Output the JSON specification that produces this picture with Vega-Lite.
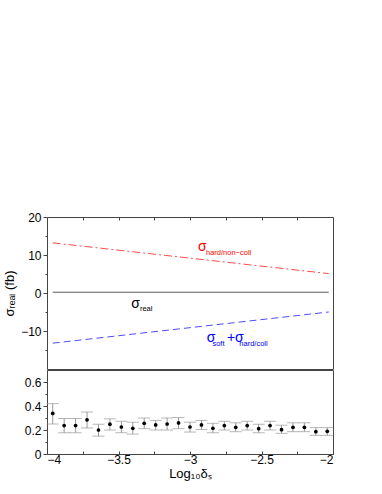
{
  "$schema": "https://vega.github.io/schema/vega-lite/v6.json",
  "padding": {"left": 3, "top": 210, "right": 5, "bottom": 5},
  "background": "white",
  "spacing": -1,
  "config": {
    "font": "Liberation Sans",
    "view": {"stroke": "#444", "strokeWidth": 1},
    "axis": {
      "domain": false, "grid": false, "labelOverlap": false,
      "labelFont": "Liberation Sans", "labelFontSize": 12, "labelColor": "#000", "labelPadding": 2,
      "tickColor": "#444", "tickWidth": 1,
      "titleFont": "Liberation Sans", "titleFontWeight": "normal", "titleFontSize": 13, "titleColor": "#000"
    }
  },
  "datasets": {
    "curves": [
      {"series": "hard", "x": -3.96, "y": 13.2},
      {"series": "hard", "x": -2.03, "y": 5.1},
      {"series": "real", "x": -3.96, "y": 0.2},
      {"series": "real", "x": -2.03, "y": 0.2},
      {"series": "soft", "x": -3.96, "y": -13.2},
      {"series": "soft", "x": -2.03, "y": -5.0}
    ],
    "labels_main": [
      {"series": "hard", "x": -2.944, "y": 11.0, "text": "σ"},
      {"series": "real", "x": -3.41, "y": -3.9, "text": "σ"},
      {"series": "soft", "x": -2.883, "y": -12.9, "text": "σ"},
      {"series": "soft", "x": -2.742, "y": -12.9, "text": "+σ"}
    ],
    "labels_sub": [
      {"series": "hard", "x": -2.888, "y": 9.9, "text": "hard/non−coll"},
      {"series": "real", "x": -3.35, "y": -4.7, "text": "real"},
      {"series": "soft", "x": -2.843, "y": -14.0, "text": "soft"},
      {"series": "soft", "x": -2.655, "y": -14.0, "text": "hard/coll"}
    ],
    "points": [
      {"x": -3.96, "y": 0.338, "lo": 0.25, "hi": 0.42},
      {"x": -3.88, "y": 0.237, "lo": 0.177, "hi": 0.296},
      {"x": -3.80, "y": 0.237, "lo": 0.177, "hi": 0.296},
      {"x": -3.72, "y": 0.285, "lo": 0.217, "hi": 0.35},
      {"x": -3.64, "y": 0.200, "lo": 0.149, "hi": 0.248},
      {"x": -3.56, "y": 0.248, "lo": 0.200, "hi": 0.293},
      {"x": -3.48, "y": 0.225, "lo": 0.177, "hi": 0.273},
      {"x": -3.40, "y": 0.214, "lo": 0.166, "hi": 0.265},
      {"x": -3.32, "y": 0.256, "lo": 0.211, "hi": 0.300},
      {"x": -3.24, "y": 0.242, "lo": 0.200, "hi": 0.280},
      {"x": -3.16, "y": 0.250, "lo": 0.200, "hi": 0.300},
      {"x": -3.08, "y": 0.259, "lo": 0.211, "hi": 0.304},
      {"x": -3.00, "y": 0.225, "lo": 0.183, "hi": 0.265},
      {"x": -2.92, "y": 0.242, "lo": 0.203, "hi": 0.280},
      {"x": -2.84, "y": 0.214, "lo": 0.177, "hi": 0.256},
      {"x": -2.76, "y": 0.237, "lo": 0.200, "hi": 0.273},
      {"x": -2.68, "y": 0.222, "lo": 0.186, "hi": 0.260},
      {"x": -2.60, "y": 0.237, "lo": 0.200, "hi": 0.273},
      {"x": -2.52, "y": 0.211, "lo": 0.177, "hi": 0.248},
      {"x": -2.44, "y": 0.237, "lo": 0.200, "hi": 0.273},
      {"x": -2.36, "y": 0.203, "lo": 0.172, "hi": 0.240},
      {"x": -2.28, "y": 0.222, "lo": 0.186, "hi": 0.260},
      {"x": -2.20, "y": 0.222, "lo": 0.186, "hi": 0.260},
      {"x": -2.12, "y": 0.186, "lo": 0.155, "hi": 0.220},
      {"x": -2.04, "y": 0.189, "lo": 0.155, "hi": 0.220}
    ]
  },
  "vconcat": [
    {
      "width": 286,
      "height": 152,
      "encoding": {
        "x": {
          "field": "x", "type": "quantitative",
          "scale": {"domain": [-4, -2], "nice": false, "zero": false},
          "axis": {"orient": "top", "values": [-3.75, -3.5, -3.25, -3, -2.75, -2.5, -2.25], "labels": false, "title": null, "tickSize": -3}
        },
        "y": {
          "field": "y", "type": "quantitative",
          "scale": {"domain": [-20, 20], "nice": false, "zero": false},
          "axis": {
            "values": [-15, -10, -5, 0, 5, 10, 15, 20],
            "labelOverlap": false,
            "labelExpr": "(datum.value % 10 === 0) ? datum.label : ''",
            "tickSize": {"condition": {"test": "datum.value % 10 === 0", "value": 4}, "value": 2},
            "title": "σᵣₑₐₗ (fb)", "titlePadding": 4
          }
        },
        "color": {
          "field": "series", "type": "nominal",
          "scale": {"domain": ["hard", "real", "soft"], "range": ["#ff0000", "#000000", "#0000ff"]},
          "legend": null
        }
      },
      "layer": [
        {
          "data": {"name": "curves"},
          "mark": {"type": "line", "strokeWidth": 1, "opacity": 0.7},
          "encoding": {
            "strokeDash": {
              "field": "series", "type": "nominal",
              "scale": {"domain": ["hard", "real", "soft"], "range": [[8, 3, 2, 3], [1, 0], [7, 4]]},
              "legend": null
            }
          }
        },
        {
          "data": {"name": "labels_main"},
          "mark": {"type": "text", "align": "left", "baseline": "alphabetic", "fontSize": 14},
          "encoding": {"text": {"field": "text"}}
        },
        {
          "data": {"name": "labels_sub"},
          "mark": {"type": "text", "align": "left", "baseline": "alphabetic", "fontSize": 7.5},
          "encoding": {"text": {"field": "text"}}
        }
      ]
    },
    {
      "width": 286,
      "height": 84,
      "data": {"name": "points"},
      "encoding": {
        "x": {
          "field": "x", "type": "quantitative",
          "scale": {"domain": [-4, -2], "nice": false, "zero": false},
          "axis": {
            "values": [-4, -3.75, -3.5, -3.25, -3, -2.75, -2.5, -2.25, -2],
            "format": "~g",
            "labelOverlap": false,
            "labelExpr": "(round(datum.value * 4) % 2 === 0) ? datum.label : ''",
            "tickSize": -3, "labelPadding": 3,
            "title": "Log₁₀δₛ", "titlePadding": 2
          }
        }
      },
      "layer": [
        {
          "mark": {"type": "rule", "color": "#999999", "strokeWidth": 1},
          "encoding": {
            "y": {
              "field": "lo", "type": "quantitative",
              "scale": {"domain": [0, 0.7], "nice": false},
              "axis": {
                "values": [0, 0.1, 0.2, 0.3, 0.4, 0.5, 0.6],
                "format": ".1~f",
                "labelOverlap": false,
                "labelExpr": "indexof(['0', '0.2', '0.4', '0.6'], datum.label) >= 0 ? datum.label : ''",
                "tickSize": {"condition": {"test": "indexof(['0', '0.2', '0.4', '0.6'], datum.label) >= 0", "value": 4}, "value": 2},
                "title": null
              }
            },
            "y2": {"field": "hi"}
          }
        },
        {
          "mark": {"type": "tick", "orient": "horizontal", "color": "#999999", "size": 12, "thickness": 1},
          "encoding": {
            "y": {
              "field": "lo", "type": "quantitative",
              "axis": {
                "values": [0, 0.1, 0.2, 0.3, 0.4, 0.5, 0.6],
                "format": ".1~f",
                "labelOverlap": false,
                "labelExpr": "indexof(['0', '0.2', '0.4', '0.6'], datum.label) >= 0 ? datum.label : ''",
                "tickSize": {"condition": {"test": "indexof(['0', '0.2', '0.4', '0.6'], datum.label) >= 0", "value": 4}, "value": 2},
                "title": null
              }
            }
          }
        },
        {
          "mark": {"type": "tick", "orient": "horizontal", "color": "#999999", "size": 12, "thickness": 1},
          "encoding": {
            "y": {
              "field": "hi", "type": "quantitative",
              "axis": {
                "values": [0, 0.1, 0.2, 0.3, 0.4, 0.5, 0.6],
                "format": ".1~f",
                "labelOverlap": false,
                "labelExpr": "indexof(['0', '0.2', '0.4', '0.6'], datum.label) >= 0 ? datum.label : ''",
                "tickSize": {"condition": {"test": "indexof(['0', '0.2', '0.4', '0.6'], datum.label) >= 0", "value": 4}, "value": 2},
                "title": null
              }
            }
          }
        },
        {
          "mark": {"type": "point", "filled": true, "color": "#000000", "size": 14, "opacity": 1},
          "encoding": {
            "y": {
              "field": "y", "type": "quantitative",
              "axis": {
                "values": [0, 0.1, 0.2, 0.3, 0.4, 0.5, 0.6],
                "format": ".1~f",
                "labelOverlap": false,
                "labelExpr": "indexof(['0', '0.2', '0.4', '0.6'], datum.label) >= 0 ? datum.label : ''",
                "tickSize": {"condition": {"test": "indexof(['0', '0.2', '0.4', '0.6'], datum.label) >= 0", "value": 4}, "value": 2},
                "title": null
              }
            }
          }
        }
      ]
    }
  ]
}
